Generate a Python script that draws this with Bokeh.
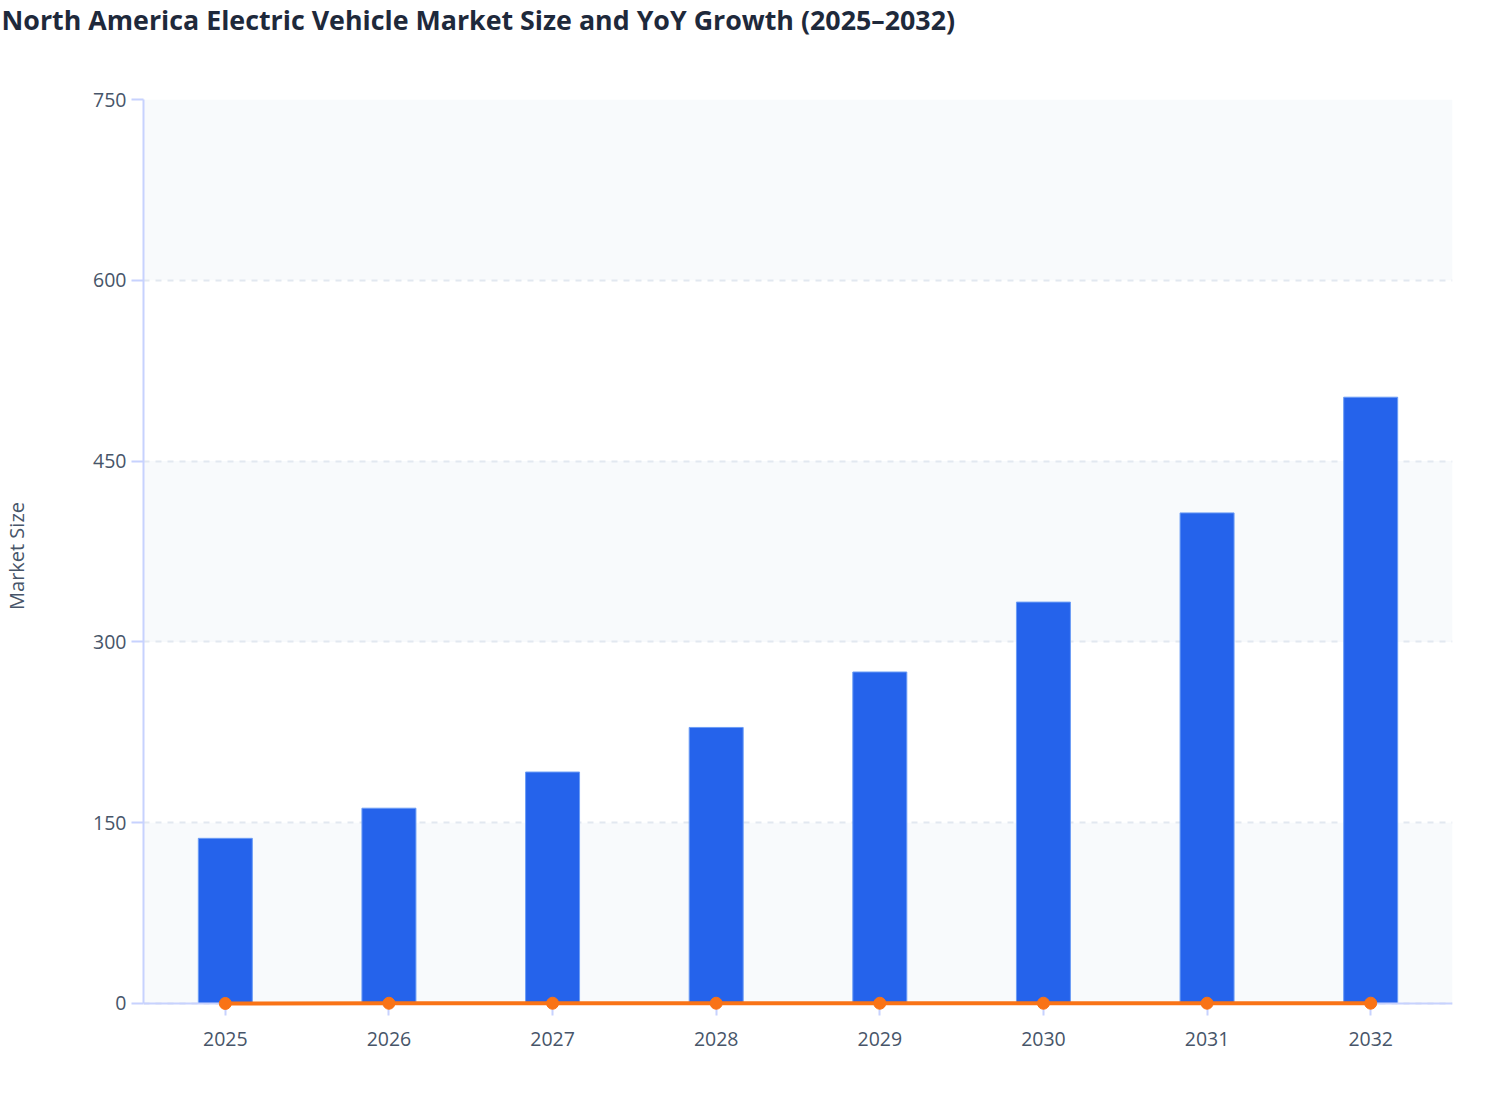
from bokeh.plotting import figure
from bokeh.models import (ColumnDataSource, FactorRange, Range1d, FixedTicker,
                          BoxAnnotation, Span)
from bokeh.embed import file_html
from bokeh.resources import INLINE

years = ["2025", "2026", "2027", "2028", "2029", "2030", "2031", "2032"]
market_size = [137, 162, 192, 229, 275, 333, 407, 503]
yoy_growth = [0.0, 0.18, 0.19, 0.19, 0.20, 0.21, 0.22, 0.24]
y_ticks = [0, 150, 300, 450, 600, 750]
title = "North America Electric Vehicle Market Size and YoY Growth (2025\u20132032)"

FONT = "Open Sans"
TEXT = "#475569"
AXIS = "#c7d2fe"
BAND = "#f8fafc"

source = ColumnDataSource(data=dict(year=years, size=market_size, yoy=yoy_growth))

# a little room below zero so the growth markers are not clipped
p = figure(
    x_range=FactorRange(*years),
    y_range=Range1d(-7.5, 750),
    width=1500, height=1100,
    y_axis_label="Market Size",
    output_backend="svg",
    toolbar_location=None,
    min_border_left=143, min_border_right=48,
    min_border_top=99, min_border_bottom=88,
    background_fill_color="white",
    border_fill_color="white",
    outline_line_color=None,
)

# alternating bands between the y ticks, drawn before the grid lines
bands = [BoxAnnotation(bottom=lo, top=hi, fill_color=BAND, fill_alpha=1.0,
                       line_color=None, level="underlay")
         for lo, hi in zip(y_ticks[0::2], y_ticks[1::2])]
p.center = bands + list(p.center)

p.vbar(x="year", top="size", width=0.33, source=source,
       fill_color="#2563eb", line_color="#6b9cf5", line_width=1)

# zero line acts as the x axis line
p.add_layout(Span(location=0, dimension="width", line_color=AXIS, line_width=2))

p.line(x="year", y="yoy", source=source, line_color="#f97316", line_width=4,
       level="overlay")
p.scatter(x="year", y="yoy", source=source, size=12,
          fill_color="#f97316", line_color="#f97316", level="overlay")

# title: an empty second line lifts it to the top of the page
p.title.text = title + "\n"
p.title.text_font = FONT
p.title.text_font_size = "26.8px"
p.title.text_color = "#1e293b"
p.title.text_font_style = "bold"
p.title.text_line_height = 1.61
p.title.vertical_align = "top"
p.title.standoff = 0
p.title.offset = -142

# grid
p.xgrid.grid_line_color = None
p.ygrid.ticker = FixedTicker(ticks=y_ticks)
p.ygrid.grid_line_color = "#e2e8f0"
p.ygrid.grid_line_width = 2
p.ygrid.grid_line_dash = "6 6"

# axes
p.yaxis.ticker = FixedTicker(ticks=y_ticks)
p.yaxis.bounds = (0, 750)
for ax in (p.xaxis[0], p.yaxis[0]):
    ax.axis_line_color = AXIS
    ax.axis_line_width = 2
    ax.major_tick_line_color = AXIS
    ax.major_tick_line_width = 2
    ax.major_tick_out = 12
    ax.major_tick_in = 0
    ax.minor_tick_line_color = None
    ax.major_label_text_font = FONT
    ax.major_label_text_font_size = "19.5px"
    ax.major_label_text_color = TEXT
    ax.axis_label_text_font = FONT
    ax.axis_label_text_font_size = "20px"
    ax.axis_label_text_color = TEXT
    ax.axis_label_text_font_style = "normal"

p.xaxis.axis_line_color = None
p.xaxis.major_tick_in = 9
p.xaxis.major_tick_out = 3
p.xaxis.major_label_standoff = 16
p.yaxis.major_label_standoff = 5
p.yaxis.axis_label_standoff = 60

open("out.html", "w").write(file_html(p, INLINE))
